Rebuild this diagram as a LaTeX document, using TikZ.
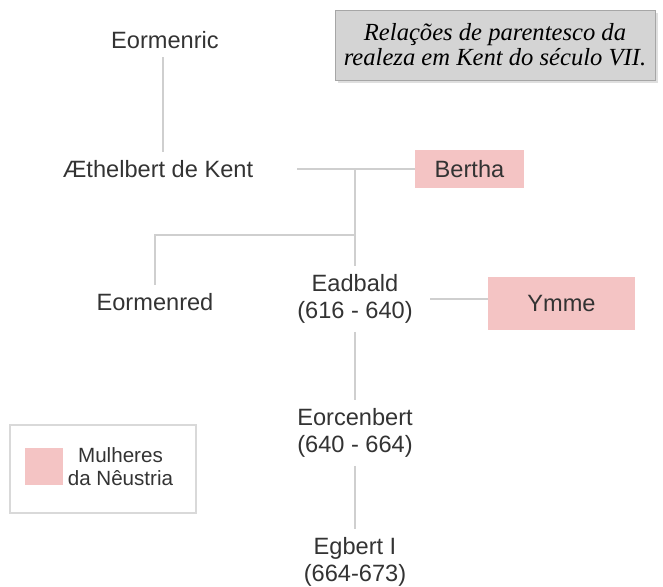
\documentclass[tikz,border=0pt]{standalone}
\usepackage{fontspec}
\setmainfont{Liberation Sans}
\newfontfamily\titlefont{Liberation Serif}
\usetikzlibrary{shadows, positioning}
\definecolor{neustria}{HTML}{F4C4C4}
\definecolor{linha}{HTML}{CFCFCF}
\definecolor{caixacinza}{HTML}{D4D4D4}
\tikzset{
  % nome de um rei ou de um filho
  pessoa/.style={align=center, inner sep=4pt, text=black!80,
    font=\fontsize{11.8}{13.5}\selectfont},
  % mulheres vindas da Nêustria
  mulher/.style={pessoa, fill=neustria},
  % linhas da árvore
  ligacao/.style={draw=linha, line width=0.6pt},
  % caixa do título
  titulo/.style={draw=black!35, fill=caixacinza, align=center,
    drop shadow={shadow xshift=1.5pt, shadow yshift=-1.5pt, fill=black!25},
    font=\titlefont\itshape\fontsize{12.3}{12.5}\selectfont},
  % legenda
  legenda/.style={draw=black!15, line width=0.6pt},
}
\begin{document}
\begin{tikzpicture}[x=0.5pt, y=-0.5pt]
  \useasboundingbox (0,0) rectangle (663,586);
  % título
  \node[titulo, minimum width=160pt, minimum height=35pt] (tit) at (495,45)
    {Relações de parentesco da\\realeza em Kent do século VII.};
  % geração de cima
  \node[pessoa] (eormenric) at (165,40) {Eormenric};
  \node[pessoa, minimum width=139pt] (aethelbert) at (158,169) {Æthelbert de Kent};
  \node[mulher, minimum width=54.5pt, minimum height=19pt] (bertha) at (469.5,169) {Bertha};
  % filhos de Æthelbert e Bertha
  \node[pessoa] (eormenred) at (155,302) {Eormenred};
  \node[pessoa, minimum width=75pt] (eadbald) at (355,299) {Eadbald\\(616 - 640)};
  \node[mulher, minimum width=73.5pt, minimum height=26.5pt] (ymme) at (561.5,303.5) {Ymme};
  % descendentes
  \node[pessoa] (eorcenbert) at (355,433) {Eorcenbert\\(640 - 664)};
  \node[pessoa] (egbert) at (355,562) {Egbert I\\(664-673)};
  % pontos de junção
  \coordinate (casal) at (355,169);
  \coordinate (ramo) at (355,235);
  % árvore
  \draw[ligacao] (eormenric.south -| 163,0) -- (aethelbert.north -| 163,0);
  \draw[ligacao] (aethelbert.east) -- (bertha.west);
  \draw[ligacao] (casal) -- (eadbald.north);
  \draw[ligacao] (ramo) -| (eormenred.north);
  \draw[ligacao] (eadbald.east) -- (ymme.west |- eadbald.east);
  \draw[ligacao] (eadbald.south) -- (eorcenbert.north);
  \draw[ligacao] (eorcenbert.south) -- (egbert.north);
  % legenda
  \node[legenda, minimum width=93pt, minimum height=44pt] (leg) at (103,469) {};
  \node[fill=neustria, minimum width=19pt, minimum height=18.5pt, inner sep=0pt] (quadrado) at (44,466.5) {};
  \node[pessoa, right=0pt of quadrado, inner sep=2pt, font=\fontsize{10.3}{11.5}\selectfont] (legtexto) {Mulheres\\da Nêustria};
\end{tikzpicture}
\end{document}
